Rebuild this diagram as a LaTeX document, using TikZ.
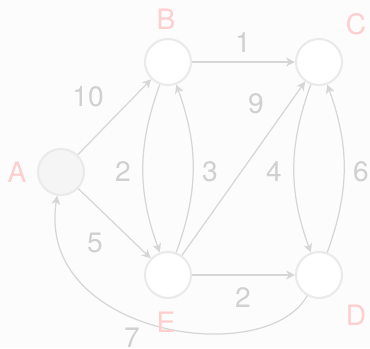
\documentclass[tikz,border=0pt]{standalone}
\usepackage{fontspec}
\setmainfont{TeX Gyre Heros}
\usetikzlibrary{arrows.meta}
\begin{document}
\begin{tikzpicture}
        % Màu sắc
        \definecolor{bgcol}{RGB}{252,252,252}
        \definecolor{edgecol}{RGB}{214,214,214}
        \definecolor{ringcol}{RGB}{234,234,234}
        \definecolor{startcol}{RGB}{245,245,245}
        \definecolor{wtcol}{RGB}{208,208,208}
        \definecolor{namecol}{RGB}{255,206,206}

        \tikzset{
            vertex/.style={circle, draw=ringcol, line width=1.2pt, fill=white, minimum size=0.92cm, inner sep=0pt},
            arc/.style={draw=edgecol, line width=0.7pt, -{Stealth[length=5pt,width=5pt,inset=1.5pt]}},
            weight/.style={font=\fontsize{16}{18}\selectfont, text=wtcol},
            vname/.style={font=\fontsize{16}{18}\selectfont, text=namecol}
        }

        % Nền
        \fill[bgcol] (0,0) rectangle (7.4,6.96);
        \useasboundingbox (0,0) rectangle (7.4,6.96);

        % Các đỉnh
        \node[vertex, fill=startcol] (A) at (1.22,3.52) {};
        \node[vertex] (B) at (3.36,5.72) {};
        \node[vertex] (C) at (6.38,5.72) {};
        \node[vertex] (E) at (3.36,1.46) {};
        \node[vertex] (D) at (6.38,1.46) {};

        % Các cung
        \draw[arc] (A) -- (B);
        \draw[arc] (A) -- (E);
        \draw[arc] (B) -- (C);
        \draw[arc] (E) -- (D);
        \draw[arc] (E) -- (C);
        \draw[arc] (B) to[bend right=20] (E);
        \draw[arc] (E) to[bend right=20] (B);
        \draw[arc] (C) to[bend right=20] (D);
        \draw[arc] (D) to[bend right=20] (C);
        \draw[arc] (D) .. controls (5.30,-0.44) and (0.70,0.26) .. (A);

        % Trọng số
        \node[weight] at (1.76,5.02) {10};
        \node[weight] at (4.86,6.10) {1};
        \node[weight] at (5.12,4.88) {9};
        \node[weight] at (2.46,3.52) {2};
        \node[weight] at (4.20,3.52) {3};
        \node[weight] at (5.48,3.52) {4};
        \node[weight] at (7.22,3.52) {6};
        \node[weight] at (1.90,2.10) {5};
        \node[weight] at (4.86,1.00) {2};
        \node[weight] at (2.64,0.20) {7};

        % Tên đỉnh
        \node[vname] at (0.34,3.52) {A};
        \node[vname] at (3.32,6.58) {B};
        \node[vname] at (7.12,6.48) {C};
        \node[vname] at (7.12,0.66) {D};
        \node[vname] at (3.32,0.52) {E};
    \end{tikzpicture}
\end{document}
